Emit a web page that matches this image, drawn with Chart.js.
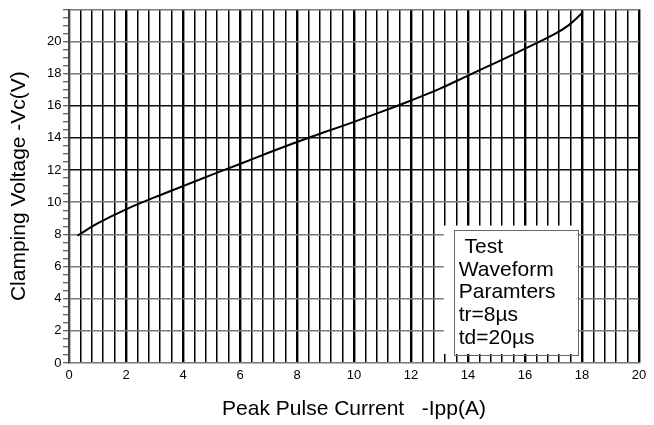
<!DOCTYPE html>
<html>
<head>
<meta charset="utf-8">
<script src="https://cdn.jsdelivr.net/npm/chart.js@4/dist/chart.umd.min.js"></script>
<style>
  html, body { margin: 0; padding: 0; background: #fff; }
  #wrap { width: 654px; height: 425px; }
</style>
</head>
<body>
<div id="wrap"><canvas id="chart" width="654" height="425"></canvas></div>
<script>
// values
const currentA = [0.3, 1, 2, 3, 4, 5, 6, 7, 8, 9, 10, 11, 12, 13, 14, 15, 16, 17, 17.5, 18];
const clampV = [7.92, 8.68, 9.56, 10.3, 11.0, 11.7, 12.38, 13.08, 13.75, 14.38, 15.0, 15.65, 16.33, 17.05, 17.88, 18.7, 19.55, 20.42, 20.97, 21.75];

const xTitle = "Peak Pulse Current   -Ipp(A)";
const yTitle = "Clamping Voltage -Vc(V)";
const noteLines = [" Test", "Waveform", "Paramters", "tr=8\u00b5s", "td=20\u00b5s"];

const darkRows = [12, 14, 16];
const grayRows = [2, 4, 6, 8, 10, 18, 20, 22];

const FONT = "'Liberation Sans', Arial, sans-serif";

function isEven(v) {
  const h = v / 2;
  return Math.abs(h - Math.round(h)) < 1e-6;
}
function near(list, v) {
  return list.some(t => Math.abs(t - v) < 1e-6);
}

const noteBox = {
  id: "noteBox",
  afterDraw(chart) {
    const { ctx, scales: { x, y } } = chart;
    const left = x.getPixelForValue(13.5);
    const right = x.getPixelForValue(17.85);
    const top = y.getPixelForValue(8.3);
    const bottom = y.getPixelForValue(0.5);
    ctx.save();
    ctx.fillStyle = "#fff";
    ctx.fillRect(left - 10, top - 4, right - left + 10, bottom - top + 3);
    ctx.strokeStyle = "#666";
    ctx.lineWidth = 1;
    ctx.strokeRect(Math.round(left) + 0.5, Math.round(top) + 0.5, Math.round(right - left), Math.round(bottom - top));
    ctx.fillStyle = "#000";
    ctx.font = "21px " + FONT;
    ctx.textBaseline = "alphabetic";
    noteLines.forEach((t, i) => {
      ctx.fillText(t, left + 5, top + 23.5 + i * 22.7);
    });
    ctx.restore();
  }
};

new Chart(document.getElementById("chart"), {
  type: "line",
  data: {
    datasets: [{
      data: currentA.map((v, i) => ({ x: v, y: clampV[i] })),
      borderColor: "#000",
      borderWidth: 2,
      pointRadius: 0,
      fill: false,
      tension: 0.35
    }]
  },
  options: {
    responsive: false,
    animation: false,
    devicePixelRatio: 1,
    layout: { padding: { top: 7, right: 15, left: 0, bottom: 0 } },
    plugins: { legend: { display: false }, tooltip: { enabled: false } },
    scales: {
      x: {
        type: "linear",
        min: 0,
        max: 20,
        afterFit(s) { s.height = 62; },
        border: { display: true, color: "#777", width: 1.5 },
        grid: {
          drawTicks: false,
          color: c => (c.tick && c.tick.value === 0) ? "#555" : "#000",
          lineWidth: c => (c.tick && isEven(c.tick.value)) ? 2.4 : 1.5
        },
        ticks: {
          stepSize: 0.4,
          autoSkip: false,
          maxRotation: 0,
          padding: 5,
          color: "#000",
          font: { family: FONT, size: 13 },
          callback: v => isEven(v) ? String(Math.round(v)) : ""
        },
        title: {
          display: true,
          text: xTitle,
          color: "#000",
          font: { family: FONT, size: 21 },
          padding: { top: 0, bottom: 3.5 }
        }
      },
      y: {
        type: "linear",
        min: 0,
        max: 22,
        afterFit(s) { s.width = 69; },
        border: { display: true, color: "#444", width: 1.5 },
        grid: {
          drawTicks: true,
          tickLength: 6,
          tickWidth: 1,
          tickColor: "#333",
          lineWidth: 1.5,
          color: c => {
            const v = c.tick ? c.tick.value : -1;
            if (near(darkRows, v)) return "#111";
            if (near(grayRows, v)) return "#7a7a7a";
            return "rgba(0,0,0,0)";
          }
        },
        ticks: {
          stepSize: 0.5,
          autoSkip: false,
          padding: 1.5,
          color: "#000",
          font: { family: FONT, size: 13 },
          callback: v => (isEven(v) && v <= 20) ? String(Math.round(v)) : ""
        },
        title: {
          display: true,
          text: yTitle,
          color: "#000",
          font: { family: FONT, size: 21 },
          padding: { top: 7, bottom: 0 }
        }
      }
    }
  },
  plugins: [noteBox]
});
</script>
</body>
</html>
